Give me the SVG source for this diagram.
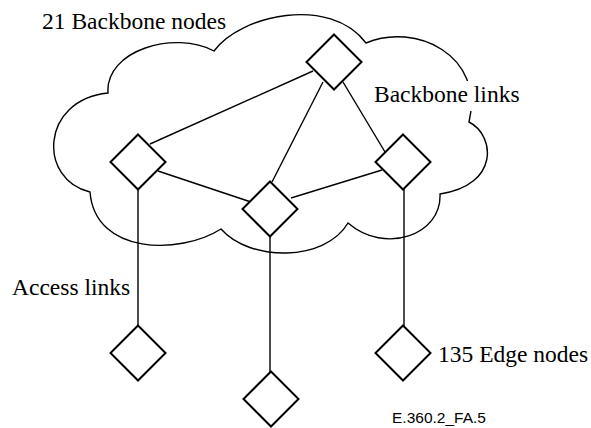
<svg xmlns="http://www.w3.org/2000/svg" width="591" height="428" viewBox="0 0 591 428">
<style>
.cloud{fill:none;stroke:#000;stroke-width:1.4;stroke-linejoin:miter}
.link{fill:none;stroke:#000;stroke-width:1.4}
.node{fill:#fff;stroke:#000;stroke-width:2;stroke-linejoin:miter}
.lbl{font-family:"Liberation Serif","Times New Roman",serif;font-size:23.5px;fill:#000}
.tag{font-family:"Liberation Sans",Arial,sans-serif;font-size:15.5px;fill:#000}
</style>
<defs>
<path id="dia" d="M0 -27.5 L27.5 0 L0 27.5 L-27.5 0 Z"/>
</defs>
<rect width="591" height="428" fill="#fff"/>
<g id="cloud">
<path class="cloud" d="M214 51 C240 15 330 -5 366 43 C415 22 485 55 469 122 C495 135 500 185 440 194 C442 235 385 255 348 223 C325 262 250 262 221 229 C180 255 95 255 90 192 C38 180 40 100 108 93 C105 50 175 30 214 51 Z"/>
</g>
<g id="connectors">
<line class="link" x1="150" y1="144" x2="313" y2="71"/>
<line class="link" x1="323" y1="82" x2="272" y2="182"/>
<line class="link" x1="343" y1="82" x2="385" y2="152"/>
<line class="link" x1="158" y1="171" x2="251" y2="202"/>
<line class="link" x1="291" y1="198" x2="382" y2="170"/>
<line class="link" x1="138" y1="189" x2="138" y2="326"/>
<line class="link" x1="270" y1="236" x2="270" y2="372"/>
<line class="link" x1="404" y1="189" x2="404" y2="326"/>
</g>
<g id="bb-top"><use href="#dia" class="node" x="334" y="62"/></g>
<g id="bb-left"><use href="#dia" class="node" x="138" y="162"/></g>
<g id="bb-mid"><use href="#dia" class="node" x="270" y="209"/></g>
<g id="bb-right"><use href="#dia" class="node" x="403" y="162"/></g>
<g id="edge-left"><use href="#dia" class="node" x="138" y="353"/></g>
<g id="edge-mid"><use href="#dia" class="node" x="271" y="399"/></g>
<g id="edge-right"><use href="#dia" class="node" x="403" y="353"/></g>
<g id="labels">
<text class="lbl" x="42" y="29">21 Backbone nodes</text>
<rect x="372" y="81" width="152" height="30" fill="#fff"/>
<text class="lbl" x="374" y="102">Backbone links</text>
<text class="lbl" x="12" y="295">Access links</text>
<text class="lbl" x="438" y="362">135 Edge nodes</text>
<text class="tag" x="392" y="423">E.360.2_FA.5</text>
</g>
</svg>
